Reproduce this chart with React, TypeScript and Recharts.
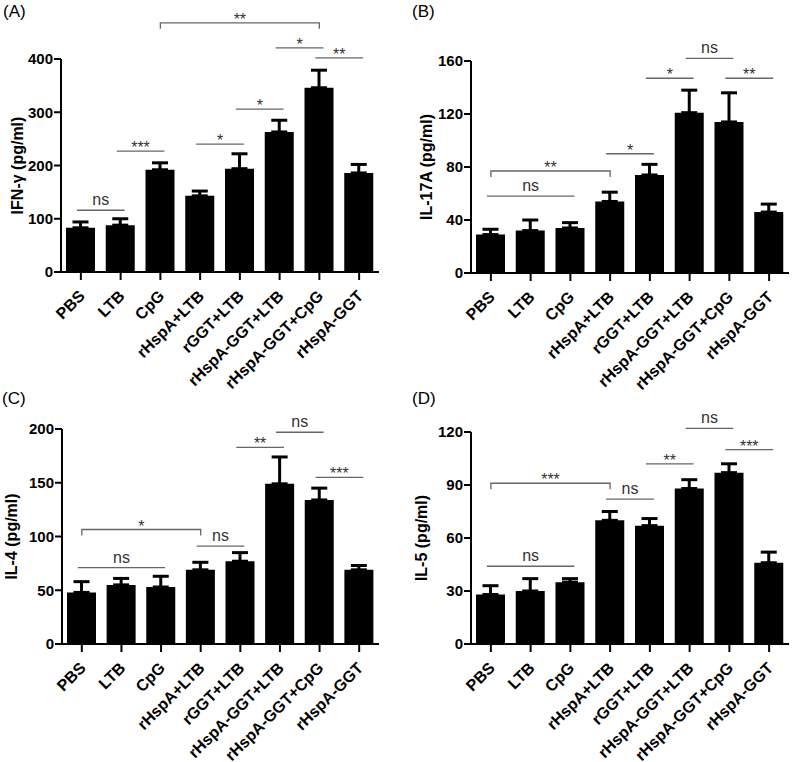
import React from 'react';
import { BarChart, Bar, XAxis, YAxis, ErrorBar, ReferenceLine, Label } from 'recharts';

const groups = [
  'PBS',
  'LTB',
  'CpG',
  'rHspA+LTB',
  'rGGT+LTB',
  'rHspA-GGT+LTB',
  'rHspA-GGT+CpG',
  'rHspA-GGT',
];

// means and upper SEM
const ifnMean = [83, 88, 192, 143, 194, 263, 346, 186];
const ifnSem = [11, 12, 13, 9, 28, 22, 33, 16];
const il17Mean = [29, 32, 34, 54, 74, 121, 114, 46];
const il17Sem = [4, 8, 4, 7, 8, 17, 22, 6];
const il4Mean = [48, 55, 53, 69, 77, 149, 134, 69];
const il4Sem = [10, 6, 10, 7, 8, 25, 11, 4];
const il5Mean = [28, 30, 35, 70, 67, 88, 97, 46];
const il5Sem = [5, 7, 2, 5, 4, 5, 5, 6];

const ifnTicks = [0, 100, 200, 300, 400];
const il17Ticks = [0, 40, 80, 120, 160];
const il4Ticks = [0, 50, 100, 150, 200];
const il5Ticks = [0, 30, 60, 90, 120];

type Comp = { from: string; to: string; at: number; mark: string; bracket?: boolean };

const ifnComps: Comp[] = [
  { from: 'PBS', to: 'LTB', at: 116, mark: 'ns' },
  { from: 'LTB', to: 'CpG', at: 227, mark: '***' },
  { from: 'rHspA+LTB', to: 'rGGT+LTB', at: 240, mark: '*' },
  { from: 'rGGT+LTB', to: 'rHspA-GGT+LTB', at: 306, mark: '*' },
  { from: 'rHspA-GGT+LTB', to: 'rHspA-GGT+CpG', at: 421, mark: '*' },
  { from: 'rHspA-GGT+CpG', to: 'rHspA-GGT', at: 402, mark: '**' },
  { from: 'CpG', to: 'rHspA-GGT+CpG', at: 468, mark: '**', bracket: true },
];
const il17Comps: Comp[] = [
  { from: 'PBS', to: 'CpG', at: 58, mark: 'ns' },
  { from: 'PBS', to: 'rHspA+LTB', at: 77, mark: '**', bracket: true },
  { from: 'rHspA+LTB', to: 'rGGT+LTB', at: 90, mark: '*' },
  { from: 'rGGT+LTB', to: 'rHspA-GGT+LTB', at: 147, mark: '*' },
  { from: 'rHspA-GGT+LTB', to: 'rHspA-GGT+CpG', at: 162, mark: 'ns' },
  { from: 'rHspA-GGT+CpG', to: 'rHspA-GGT', at: 147, mark: '**' },
];
const il4Comps: Comp[] = [
  { from: 'PBS', to: 'CpG', at: 71, mark: 'ns' },
  { from: 'PBS', to: 'rHspA+LTB', at: 106.5, mark: '*', bracket: true },
  { from: 'rHspA+LTB', to: 'rGGT+LTB', at: 91, mark: 'ns' },
  { from: 'rGGT+LTB', to: 'rHspA-GGT+LTB', at: 183, mark: '**' },
  { from: 'rHspA-GGT+LTB', to: 'rHspA-GGT+CpG', at: 197, mark: 'ns' },
  { from: 'rHspA-GGT+CpG', to: 'rHspA-GGT', at: 155, mark: '***' },
];
const il5Comps: Comp[] = [
  { from: 'PBS', to: 'CpG', at: 44, mark: 'ns' },
  { from: 'PBS', to: 'rHspA+LTB', at: 91, mark: '***', bracket: true },
  { from: 'rHspA+LTB', to: 'rGGT+LTB', at: 82, mark: 'ns' },
  { from: 'rGGT+LTB', to: 'rHspA-GGT+LTB', at: 102, mark: '**' },
  { from: 'rHspA-GGT+LTB', to: 'rHspA-GGT+CpG', at: 122, mark: 'ns' },
  { from: 'rHspA-GGT+CpG', to: 'rHspA-GGT', at: 110, mark: '***' },
];

const FONT = '"Liberation Sans", Arial, Helvetica, sans-serif';

const sigShape = (mark: string, bracket?: boolean) => (p: any) => {
  const { x1, x2, y1 } = p;
  const a = Math.min(x1, x2);
  const b = Math.max(x1, x2);
  const d = bracket
    ? `M${a},${y1 + 6}V${y1}H${b}V${y1 + 6}`
    : `M${a - 4},${y1}H${b + 4}`;
  const ns = mark === 'ns';
  return (
    <g>
      <path d={d} stroke="#666" strokeWidth={1.3} fill="none" />
      <text
        x={(a + b) / 2}
        y={ns ? y1 - 5 : y1 + 2}
        textAnchor="middle"
        fontSize={16}
        fontFamily={FONT}
        fill="#333"
      >
        {mark}
      </text>
    </g>
  );
};

const axisStub = (p: any) => (
  <line x1={p.x1 - 7} y1={p.y1} x2={p.x1 + 1} y2={p.y1} stroke="#000" strokeWidth={2} />
);

const GroupTick = (p: any) => {
  const x = p.x + 5;
  const y = p.y + 15;
  return (
    <text
      x={x}
      y={y}
      transform={`rotate(-45 ${x} ${y})`}
      textAnchor="end"
      fontSize={16}
      fontWeight="bold"
      fontFamily={FONT}
      fill="#000"
    >
      {p.payload.value}
    </text>
  );
};

type PanelProps = {
  mean: number[];
  sem: number[];
  ticks: number[];
  comps: Comp[];
  yLabel: string;
  labelX: number;
  left: number;
  top: number;
  axisW: number;
  plotTop: number;
  plotBottom: number;
  plotRight: number;
};

const W = 396;
const H = 381;

function Panel(props: PanelProps) {
  const { mean, sem, ticks, comps, yLabel, labelX, left, top, axisW, plotTop, plotBottom, plotRight } = props;
  const rows = groups.map((g, i) => ({ name: g, value: mean[i], err: [0, sem[i]] }));
  return (
    <div style={{ position: 'absolute', left, top }}>
      <BarChart
        width={W}
        height={H}
        data={rows}
        margin={{ top: plotTop, right: W - plotRight, bottom: 0, left: 0 }}
      >
        <XAxis
          dataKey="name"
          interval={0}
          height={H - plotBottom}
          tick={<GroupTick />}
          tickSize={8}
          tickMargin={2}
          axisLine={{ stroke: '#000', strokeWidth: 2 }}
          tickLine={{ stroke: '#000', strokeWidth: 2 }}
        />
        <YAxis
          width={axisW}
          domain={[0, ticks[ticks.length - 1]]}
          ticks={ticks}
          interval={0}
          tickSize={7}
          tickMargin={1}
          axisLine={{ stroke: '#000', strokeWidth: 2 }}
          tickLine={{ stroke: '#000', strokeWidth: 2 }}
          tick={{ fill: '#000', fontSize: 15, fontWeight: 'bold', fontFamily: FONT }}
        >
          <Label
            value={yLabel}
            angle={-90}
            position="insideLeft"
            offset={labelX}
            style={{ textAnchor: 'middle', fontWeight: 'bold', fontSize: 16, fontFamily: FONT, fill: '#000' }}
          />
        </YAxis>
        <Bar dataKey="value" fill="#000" barSize={29} isAnimationActive={false}>
          <ErrorBar dataKey="err" direction="y" width={8} stroke="#000" strokeWidth={3} />
        </Bar>
        <ReferenceLine y={0} ifOverflow="visible" shape={axisStub} />
        {comps.map((c, i) => (
          <ReferenceLine
            key={i}
            ifOverflow="visible"
            segment={[
              { x: c.from, y: c.at },
              { x: c.to, y: c.at },
            ]}
            shape={sigShape(c.mark, c.bracket)}
          />
        ))}
      </BarChart>
    </div>
  );
}

const letterStyle = (left: number, top: number): React.CSSProperties => ({
  position: 'absolute',
  left,
  top,
  fontFamily: FONT,
  fontSize: 17,
  lineHeight: '17px',
  color: '#000',
});

export default function App() {
  return (
    <div style={{ position: 'absolute', left: 0, top: 0, width: 792, height: 762, background: '#fff', overflow: 'hidden' }}>
      <style>{'.recharts-surface { overflow: visible; } .recharts-wrapper { overflow: visible; }'}</style>
      <Panel mean={ifnMean} sem={ifnSem} ticks={ifnTicks} comps={ifnComps} yLabel="IFN-γ  (pg/ml)"
        labelX={17} left={0} top={0} axisW={61} plotTop={59} plotBottom={272} plotRight={379} />
      <Panel mean={il17Mean} sem={il17Sem} ticks={il17Ticks} comps={il17Comps} yLabel="IL-17A (pg/ml)"
        labelX={30} left={396} top={0} axisW={75} plotTop={61} plotBottom={273} plotRight={393} />
      <Panel mean={il4Mean} sem={il4Sem} ticks={il4Ticks} comps={il4Comps} yLabel="IL-4 (pg/ml)"
        labelX={11} left={0} top={381} axisW={62} plotTop={48} plotBottom={263} plotRight={379} />
      <Panel mean={il5Mean} sem={il5Sem} ticks={il5Ticks} comps={il5Comps} yLabel="IL-5 (pg/ml)"
        labelX={25} left={396} top={381} axisW={75} plotTop={51} plotBottom={263} plotRight={393} />
      <div style={letterStyle(3, 3)}>(A)</div>
      <div style={letterStyle(412, 3)}>(B)</div>
      <div style={letterStyle(2, 390)}>(C)</div>
      <div style={letterStyle(412, 390)}>(D)</div>
    </div>
  );
}
